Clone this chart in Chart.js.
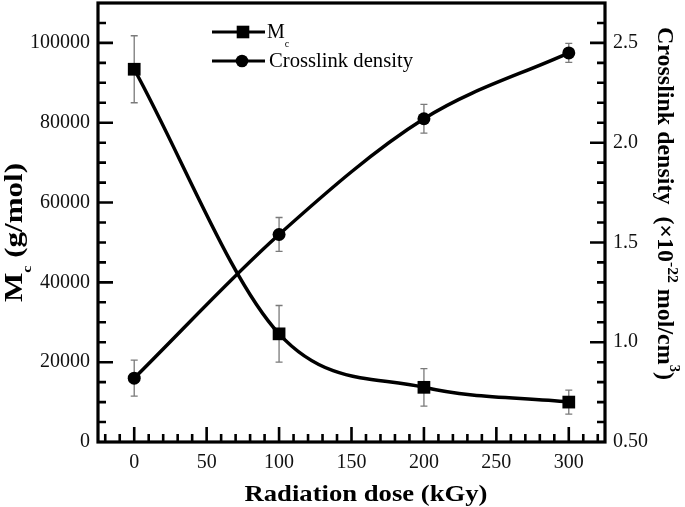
<!DOCTYPE html>
<html lang="en">
<head>
  <meta charset="UTF-8">
  <title>Mc and crosslink density vs radiation dose</title>
  <script src="https://cdn.jsdelivr.net/npm/chart.js"></script>
  <style>
    html, body { margin: 0; padding: 0; background: #fff; }
    #wrap { width: 685px; height: 507px; }
  </style>
</head>
<body>
  <div id="wrap"><canvas id="doseChart" width="685" height="507"></canvas></div>

  <script>
    const doses = [0, 100, 200, 300];
    const mcValues = [93400, 27100, 13700, 10000];
    const mcErrors = [8400, 7100, 4700, 3000];
    const densityValues = [0.82, 1.54, 2.12, 2.45];
    const densityErrors = [0.09, 0.085, 0.072, 0.048];
    const xTicks = [0, 50, 100, 150, 200, 250, 300];
    const mcTicks = [0, 20000, 40000, 60000, 80000, 100000];
    const densityTicks = [0.5, 1.0, 1.5, 2.0, 2.5];
    const densityTickLabels = ['0.50', '1.0', '1.5', '2.0', '2.5'];

    const SERIF = "'Liberation Serif', 'Times New Roman', serif";

    // draws text made of pieces (sub/superscripts), optionally stretched to a length
    function richText(ctx, parts, x, y, angle, length, align) {
      ctx.save();
      ctx.translate(x, y);
      ctx.rotate(angle);
      let w = 0;
      parts.forEach(p => { ctx.font = p.font; p.w = ctx.measureText(p.text).width; w += p.w; });
      const k = length ? length / w : 1;
      ctx.scale(k, 1);
      let cx = align === 'left' ? 0 : -w / 2;
      ctx.textAlign = 'left';
      ctx.textBaseline = 'alphabetic';
      ctx.fillStyle = '#000';
      parts.forEach(p => {
        ctx.font = p.font;
        ctx.fillText(p.text, cx, p.dy || 0);
        cx += p.w;
      });
      ctx.restore();
    }

    const errorBars = {
      id: 'errorBars',
      beforeDatasetsDraw(chart) {
        const ctx = chart.ctx;
        const xs = chart.scales.x;
        chart.data.datasets.forEach(ds => {
          const ys = chart.scales[ds.yAxisID];
          ctx.save();
          ctx.strokeStyle = '#7a7a7a';
          ctx.lineWidth = 1.3;
          ds.data.forEach((p, i) => {
            const px = xs.getPixelForValue(p.x);
            const top = ys.getPixelForValue(p.y + ds.errors[i]);
            const bot = ys.getPixelForValue(p.y - ds.errors[i]);
            ctx.beginPath();
            ctx.moveTo(px, top); ctx.lineTo(px, bot);
            ctx.moveTo(px - 3.5, top); ctx.lineTo(px + 3.5, top);
            ctx.moveTo(px - 3.5, bot); ctx.lineTo(px + 3.5, bot);
            ctx.stroke();
          });
          ctx.restore();
        });
      }
    };

    const frameAndLabels = {
      id: 'frameAndLabels',
      afterDraw(chart) {
        const ctx = chart.ctx;
        const a = chart.chartArea;
        const xs = chart.scales.x, yl = chart.scales.y, yr = chart.scales.y2;

        ctx.save();
        ctx.strokeStyle = '#000';
        ctx.lineWidth = 2.6;
        ctx.lineCap = 'butt';

        // inward ticks, major + minor
        ctx.beginPath();
        for (let v = -20; v <= 320; v += 10) {
          const len = v % 50 === 0 ? 15 : 8;
          const px = xs.getPixelForValue(v);
          ctx.moveTo(px, a.bottom); ctx.lineTo(px, a.bottom - len);
        }
        for (let v = 5000; v <= 105000; v += 5000) {
          const len = v % 20000 === 0 ? 15 : 8;
          const py = yl.getPixelForValue(v);
          ctx.moveTo(a.left, py); ctx.lineTo(a.left + len, py);
        }
        for (let k = 6; k <= 26; k++) {
          const v = k / 10;
          const len = k % 5 === 0 ? 15 : 8;
          const py = yr.getPixelForValue(v);
          ctx.moveTo(a.right, py); ctx.lineTo(a.right - len, py);
        }
        ctx.stroke();

        ctx.lineWidth = 3.2;
        ctx.strokeRect(a.left, a.top, a.right - a.left, a.bottom - a.top);
        ctx.restore();

        // legend
        ctx.save();
        ctx.strokeStyle = '#000';
        ctx.fillStyle = '#000';
        ctx.lineWidth = 3;
        ctx.beginPath();
        ctx.moveTo(212, 32); ctx.lineTo(265, 32);
        ctx.moveTo(212, 61); ctx.lineTo(265, 61);
        ctx.stroke();
        ctx.fillRect(243 - 6.3, 32 - 6.3, 12.6, 12.6);
        ctx.beginPath();
        ctx.arc(242, 61, 6.3, 0, Math.PI * 2);
        ctx.fill();
        ctx.restore();
        richText(ctx, [
          { text: chart.data.datasets[0].label.charAt(0), font: '20px ' + SERIF },
          { text: chart.data.datasets[0].label.slice(1), font: '10px ' + SERIF, dy: 8.5 }
        ], 267, 38.3, 0, null, 'left');
        richText(ctx, [{ text: chart.data.datasets[1].label, font: '20px ' + SERIF }], 269, 66.7, 0, 144, 'left');

        // axis titles
        richText(ctx, [{ text: 'Radiation dose (kGy)', font: 'bold 23px ' + SERIF }], 366, 501, 0, 243);
        richText(ctx, [
          { text: 'M', font: 'bold 25px ' + SERIF },
          { text: 'c', font: 'bold 13px ' + SERIF, dy: 9 },
          { text: ' (g/mol)', font: 'bold 25px ' + SERIF }
        ], 22, 232.5, -Math.PI / 2, 139);
        richText(ctx, [
          { text: 'Crosslink density  (\u00d710', font: 'bold 23px ' + SERIF },
          { text: '-22', font: 'bold 15px ' + SERIF, dy: -10 },
          { text: ' mol/cm', font: 'bold 23px ' + SERIF },
          { text: '3', font: 'bold 14px ' + SERIF, dy: -12 },
          { text: ')', font: 'bold 23px ' + SERIF }
        ], 658, 203.5, Math.PI / 2, 353);
      }
    };

    const tickFont = { family: SERIF, size: 20 };

    new Chart(document.getElementById('doseChart'), {
      type: 'line',
      data: {
        datasets: [
          {
            label: 'Mc',
            data: doses.map((x, i) => ({ x: x, y: mcValues[i] })),
            errors: mcErrors,
            yAxisID: 'y',
            borderColor: '#000',
            backgroundColor: '#000',
            borderWidth: 3.5,
            pointStyle: 'rect',
            pointRadius: 9,
            pointBorderWidth: 0,
            cubicInterpolationMode: 'monotone'
          },
          {
            label: 'Crosslink density',
            data: doses.map((x, i) => ({ x: x, y: densityValues[i] })),
            errors: densityErrors,
            yAxisID: 'y2',
            borderColor: '#000',
            backgroundColor: '#000',
            borderWidth: 3.5,
            pointStyle: 'circle',
            pointRadius: 6.5,
            pointBorderWidth: 0,
            cubicInterpolationMode: 'monotone'
          }
        ]
      },
      options: {
        responsive: false,
        animation: false,
        layout: { autoPadding: false, padding: { top: 3, left: 0, right: 0, bottom: 0 } },
        plugins: {
          legend: { display: false },
          tooltip: { enabled: false }
        },
        scales: {
          x: {
            type: 'linear',
            min: -25,
            max: 325,
            afterBuildTicks: s => { s.ticks = xTicks.map(v => ({ value: v })); },
            afterFit: s => { s.height = 65; s.paddingLeft = 0; s.paddingRight = 0; },
            ticks: { font: tickFont, color: '#111', padding: 9, maxRotation: 0, autoSkip: false },
            grid: { display: false, drawTicks: false },
            border: { display: false }
          },
          y: {
            position: 'left',
            min: 0,
            max: 110000,
            afterBuildTicks: s => { s.ticks = mcTicks.map(v => ({ value: v })); },
            afterFit: s => { s.width = 98; s.paddingTop = 0; s.paddingBottom = 0; },
            ticks: { font: tickFont, color: '#111', padding: 8, callback: v => String(v) },
            grid: { display: false, drawTicks: false },
            border: { display: false }
          },
          y2: {
            position: 'right',
            min: 0.5,
            max: 2.7,
            afterBuildTicks: s => { s.ticks = densityTicks.map(v => ({ value: v })); },
            afterFit: s => { s.width = 80; s.paddingTop = 0; s.paddingBottom = 0; },
            ticks: { font: tickFont, color: '#111', padding: 8, callback: (v, i) => densityTickLabels[i] },
            grid: { display: false, drawTicks: false },
            border: { display: false }
          }
        }
      },
      plugins: [errorBars, frameAndLabels]
    });
  </script>
</body>
</html>
